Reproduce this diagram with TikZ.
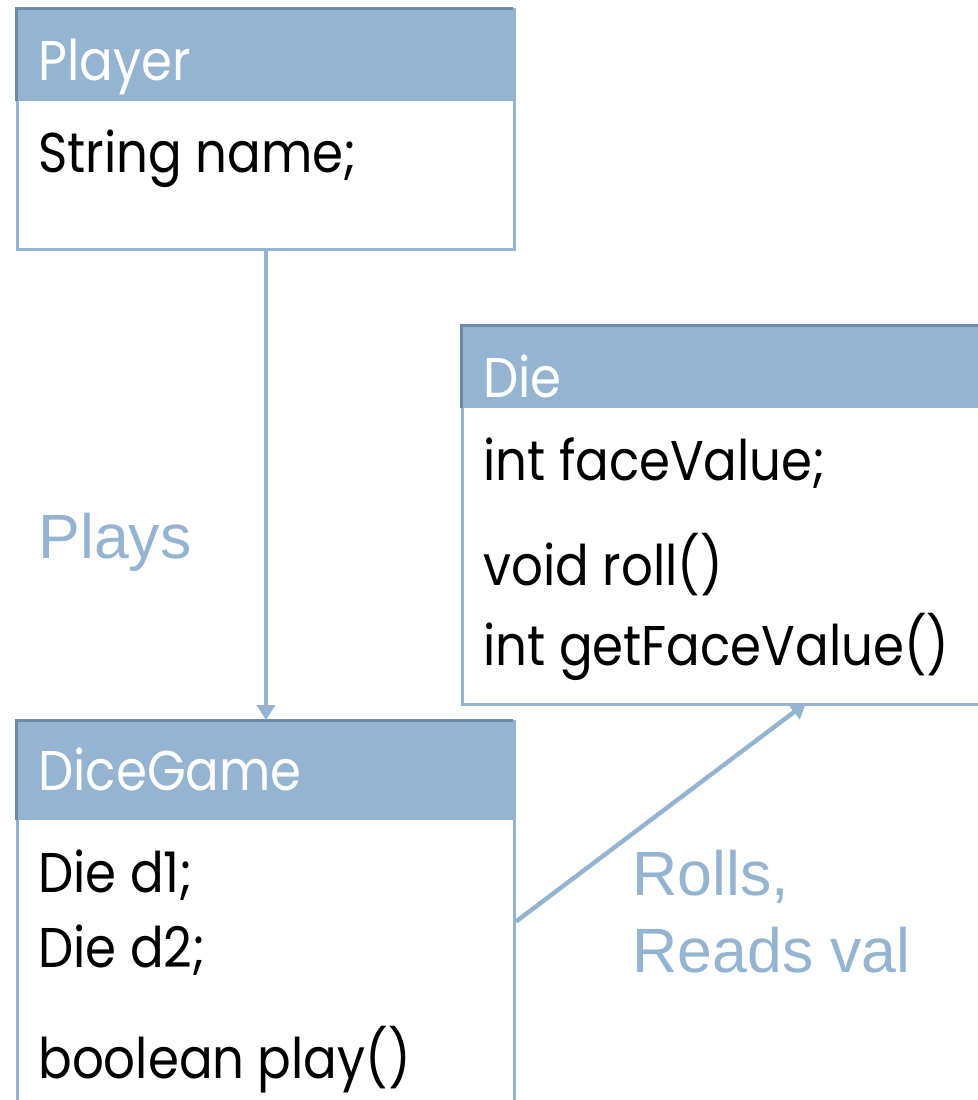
\documentclass[tikz,border=0pt]{standalone}
\usepackage{fontspec}
\setmainfont[FakeStretch=0.89]{Poppins}
\newfontfamily\labelfont{Liberation Sans}
\usetikzlibrary{arrows.meta}
\definecolor{hdr}{RGB}{149,180,210}
\definecolor{hdredge}{RGB}{110,138,165}
\definecolor{lbl}{RGB}{149,180,210}
\tikzset{
  boxbody/.style={draw=hdr, line width=1.5pt, fill=white},
  boxhead/.style={fill=hdr, draw=none},
  headtext/.style={anchor=base west, inner sep=0pt, text=white, font=\fontsize{28}{30}\selectfont},
  membertext/.style={anchor=base west, inner sep=0pt, text=black, font=\fontsize{28}{30}\selectfont},
  labeltext/.style={anchor=base west, inner sep=0pt, text=lbl, font=\labelfont\fontsize{31.3}{33}\selectfont},
  conn/.style={draw=hdr, line width=2.2pt, -{Triangle[width=9pt,length=7.5pt]}},
}
\begin{document}
\begin{tikzpicture}[x=0.5pt,y=-0.5pt]
\useasboundingbox (0,0) rectangle (978,1100);
\begin{scope}
\clip (0,0) rectangle (978,1100);
% Player
\node[boxbody, anchor=north west, minimum width=248.5pt, minimum height=120pt, inner sep=0pt] (player) at (16,8) {};
\fill[hdr] (16,8) rectangle (513,101);
\draw[hdredge, line width=1.5pt] (16,101) -- (16,8) -- (513,8);
\node[headtext] (playername) at (38,80) {Player};
\node[membertext] (playerattr) at (38,172) {String name;};
% Die
\node[boxbody, anchor=north west, minimum width=280pt, minimum height=189pt, inner sep=0pt] (die) at (461,325) {};
\fill[hdr] (461,325) rectangle (1030,408);
\draw[hdredge, line width=1.5pt] (461,408) -- (461,325) -- (1030,325);
\node[headtext] (diename) at (483,397) {Die};
\node[membertext] (dieattr) at (483,480) {int faceValue;};
\node[membertext] (diem1) at (483,585) {void roll()};
\node[membertext] (diem2) at (483,665) {int getFaceValue()};
% DiceGame
\node[boxbody, anchor=north west, minimum width=248.5pt, minimum height=200pt, inner sep=0pt] (game) at (16,720) {};
\fill[hdr] (16,720) rectangle (513,820);
\draw[hdredge, line width=1.5pt] (16,820) -- (16,720) -- (513,720);
\node[headtext] (gamename) at (38,790) {DiceGame};
\node[membertext] (gamea1) at (38,892) {Die d1;};
\node[membertext] (gamea2) at (38,967) {Die d2;};
\node[membertext] (gamem1) at (38,1078) {boolean play()};
% connectors
\coordinate (rollend) at (806,703);
\draw[conn] (player.south) -- (game.north);
\draw[conn] (game.east) -- (rollend);
% labels
\node[labeltext] (plays) at (38,558) {Plays};
\node[labeltext] (rolls) at (632,895) {Rolls,};
\node[labeltext] (reads) at (632,972) {Reads val};
\end{scope}
\end{tikzpicture}
\end{document}
